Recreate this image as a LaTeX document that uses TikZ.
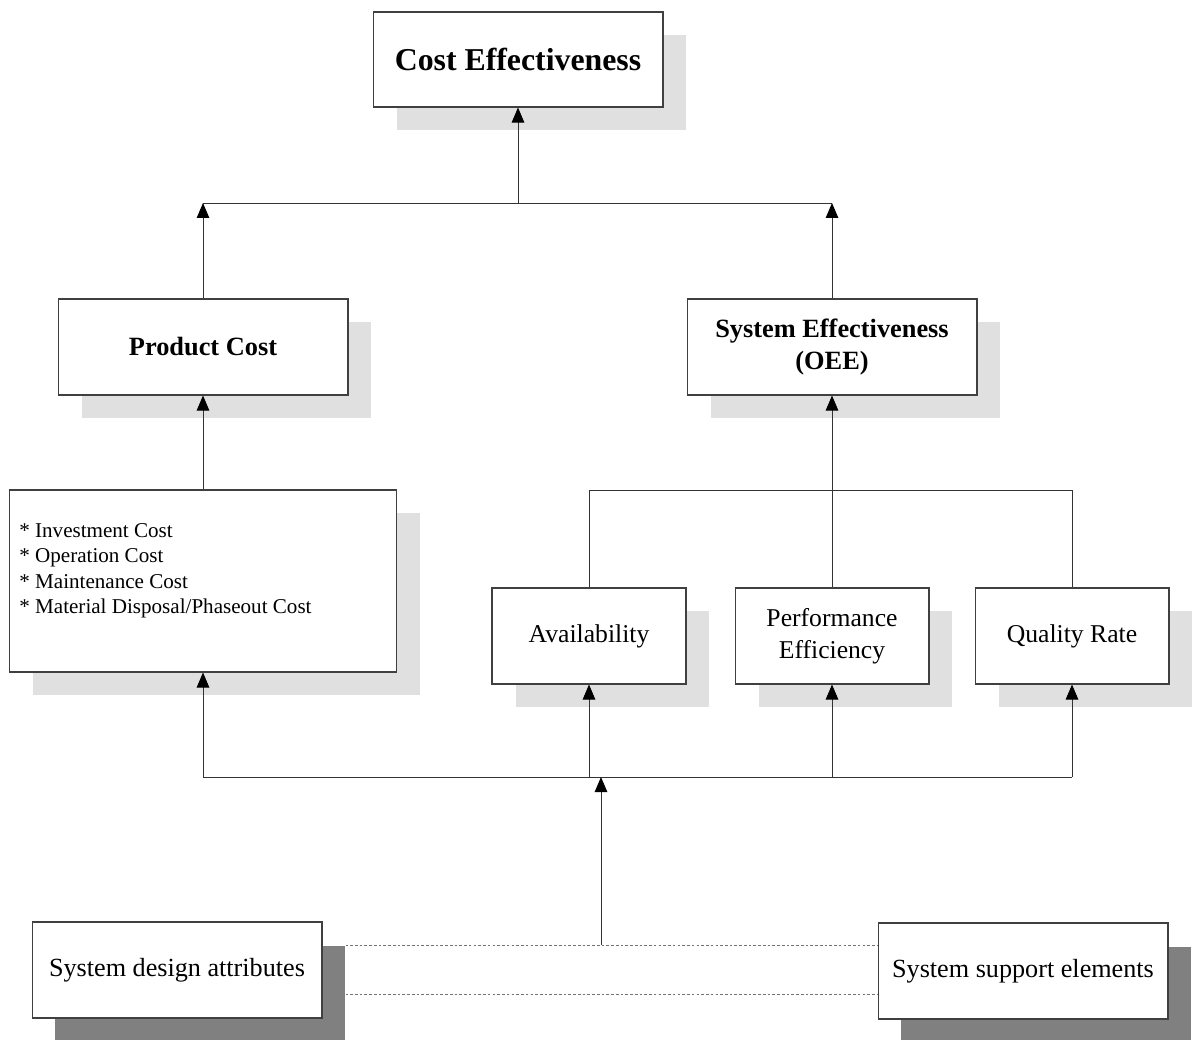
\documentclass[tikz,border=0pt]{standalone}
\usepackage{fontspec}
\setmainfont{Liberation Serif}
\usetikzlibrary{arrows.meta,shadows,calc}

\begin{document}
\begin{tikzpicture}[x=0.02cm,y=-0.02cm,
  box/.style={draw=black!75, line width=0.6pt, fill=white, inner sep=0pt, align=center},
  soft/.style={drop shadow={shadow xshift=0.47cm, shadow yshift=-0.46cm, fill=black!12, draw=none, opacity=1}},
  hard/.style={drop shadow={shadow xshift=0.46cm, shadow yshift=-0.48cm, fill=black!50, draw=none, opacity=1}},
  wide/.style={minimum width=5.8cm, minimum height=1.92cm},
  narrow/.style={minimum width=3.88cm, minimum height=1.92cm},
  link/.style={draw=black!80, line width=0.55pt},
  up/.style={link, -{Triangle[width=0.25cm,length=0.3cm,color=black]}},
  dotline/.style={draw=black!55, line width=0.5pt, dash pattern=on 1.5pt off 1.2pt}
]
\useasboundingbox (0,0) rectangle (1193,1040);
\fill[white] (0,0) rectangle (1193,1040);
\clip (0,0) rectangle (1193,1040);

% boxes
\node[box,soft,minimum width=5.8cm,minimum height=1.9cm,
      font=\fontsize{18.1}{21}\selectfont\bfseries] (ce) at (518,59.5) {Cost Effectiveness};
\node[box,soft,wide,font=\fontsize{15}{18.1}\selectfont\bfseries] (pc) at (203,347) {Product Cost};
\node[box,soft,wide,font=\fontsize{15}{18.1}\selectfont\bfseries] (se) at (832,347)
      {System Effectiveness\\(OEE)};
\node[box,soft,minimum width=7.74cm,minimum height=3.64cm] (costs) at (203,581) {};
\node[inner sep=0pt, anchor=north west, align=left,
      font=\fontsize{12}{14.5}\selectfont] (costtext) at (19,523)
      {* Investment Cost\\* Operation Cost\\* Maintenance Cost\\* Material Disposal/Phaseout Cost};
\node[box,soft,narrow,font=\fontsize{14.6}{18.1}\selectfont] (avail) at (589,636) {Availability};
\node[box,soft,narrow,font=\fontsize{14.6}{18.1}\selectfont] (perf) at (832,636) {Performance\\Efficiency};
\node[box,soft,narrow,font=\fontsize{14.6}{18.1}\selectfont] (qual) at (1072,636) {Quality Rate};
\node[box,hard,wide,font=\fontsize{14.9}{18}\selectfont] (sda) at (177,970) {System design attributes};
\node[box,hard,wide,font=\fontsize{14.9}{18}\selectfont] (sse) at (1023,971) {System support elements};

% junction points
\coordinate (topbar) at (518,203);
\coordinate (midbar) at (832,490);
\coordinate (lowbar) at (601,777);
\coordinate (feed) at (601,945);

% upper level
\draw[link] (pc.north |- topbar) -- (se.north |- topbar);
\draw[up] (pc.north) -- (pc.north |- topbar);
\draw[up] (se.north) -- (se.north |- topbar);
\draw[up] (topbar) -- (ce.south);

% middle level
\draw[up] (costs.north) -- (pc.south);
\draw[link] (avail.north) -- (avail.north |- midbar) -- (qual.north |- midbar) -- (qual.north);
\draw[up] (perf.north) -- (se.south);

% lower level
\draw[link] (costs.south |- lowbar) -- (qual.south |- lowbar);
\draw[up] (costs.south |- lowbar) -- (costs.south);
\draw[up] (avail.south |- lowbar) -- (avail.south);
\draw[up] (perf.south |- lowbar) -- (perf.south);
\draw[up] (qual.south |- lowbar) -- (qual.south);
\draw[up] (feed) -- (lowbar);

% dotted band between the two base boxes
\draw[dotline] ([shift={(23,24)}]sda.north east) -- ([shift={(0,23)}]sse.north west);
\draw[dotline] ([shift={(23,-24)}]sda.south east) -- ([shift={(0,-25)}]sse.south west);
\end{tikzpicture}
\end{document}
